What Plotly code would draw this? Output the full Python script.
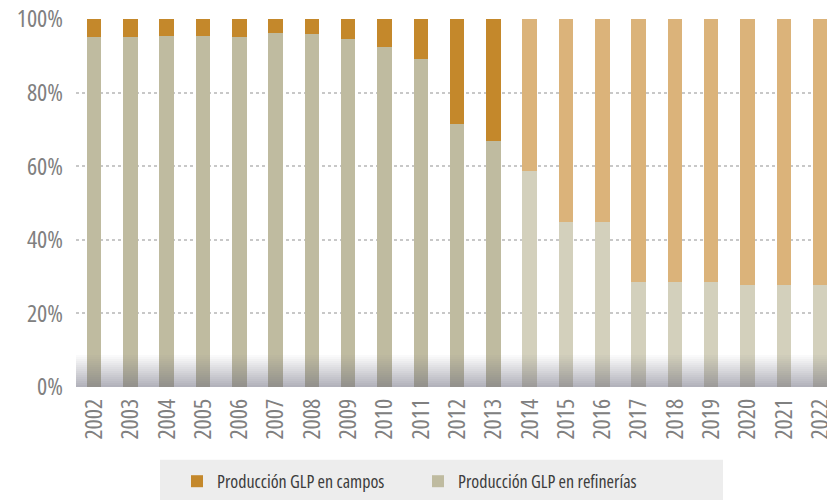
import plotly.graph_objects as go

years = [str(y) for y in range(2002, 2023)]
refinerias = [95.1, 95.0, 95.4, 95.4, 95.0, 96.2, 96.0, 94.6, 92.4, 89.1, 71.4, 66.8,
              58.7, 44.8, 44.8, 28.5, 28.5, 28.5, 27.7, 27.7, 27.7]
campos = [round(100 - v, 1) for v in refinerias]

n_dark = 12
col_campos = ["#C4882B"] * n_dark + ["#DBB37A"] * (len(years) - n_dark)
col_ref = ["#BFBBA0"] * n_dark + ["#D3D0BC"] * (len(years) - n_dark)

FONT = "Open Sans"

fig = go.Figure()
fig.add_bar(x=years, y=[v / 100 for v in refinerias], name="Producción GLP en refinerías",
            marker=dict(color=col_ref, line=dict(width=0)), width=0.4)
fig.add_bar(x=years, y=[v / 100 for v in campos], name="Producción GLP en campos",
            marker=dict(color=col_campos, line=dict(width=0)), width=0.4)

# bottom shadow gradient
shapes = []
steps = 16
y_top = 0.087
for i in range(steps):
    y0 = y_top * (1 - (i + 1) / steps)
    y1 = y_top * (1 - i / steps)
    a = 0.032 * (i + 1)
    shapes.append(dict(type="rect", xref="paper", yref="y", x0=0, x1=1, y0=y0, y1=y1,
                       fillcolor=f"rgba(105,105,122,{a:.3f})", line=dict(width=0), layer="above"))
# legend background
shapes.append(dict(type="rect", xref="paper", yref="paper", x0=0.1119, x1=0.8615,
                   y0=-0.31, y1=-0.198, fillcolor="#EDEDED", line=dict(width=0), layer="below"))

fig.update_layout(
    width=827, height=500,
    margin=dict(l=76, r=0, t=19, b=113),
    paper_bgcolor="white", plot_bgcolor="white",
    barmode="stack", bargap=0.6,
    font=dict(family=FONT, color="#808080"),
    showlegend=True,
    legend=dict(orientation="h", x=0.1345, xanchor="left", y=-0.258, yanchor="middle",
                bgcolor="rgba(0,0,0,0)", traceorder="reversed",
                font=dict(size=18, color="#3C3C3C", family=FONT),
                entrywidth=196, itemwidth=30),
    shapes=shapes,
    xaxis=dict(type="category", range=[-0.5, 20.19], tickangle=-90, showgrid=False,
               tickfont=dict(size=24, color="#808080", family=FONT),
               ticks="", showline=False, ticklabelstandoff=6, automargin=False),
    yaxis=dict(range=[0, 1], tickvals=[0, 0.2, 0.4, 0.6, 0.8, 1.0],
               ticktext=["0%", "20%", "40%", "60%", "80%", "100%"],
               showgrid=True, gridcolor="#C8C8C8", griddash="dot", gridwidth=1.5,
               zeroline=False, automargin=False,
               tickfont=dict(size=24, color="#808080", family=FONT),
               ticks="", ticklabelstandoff=12),
)

post = """
document.body.style.margin='0';document.body.style.padding='0';
var st=document.createElement('style');
st.textContent='svg text{font-stretch:condensed !important;}';
document.head.appendChild(st);
var gd=document.getElementById('{plot_id}');
Plotly.relayout(gd,{});
"""
fig.write_html("out.html", post_script=post, config={"displayModeBar": False})
